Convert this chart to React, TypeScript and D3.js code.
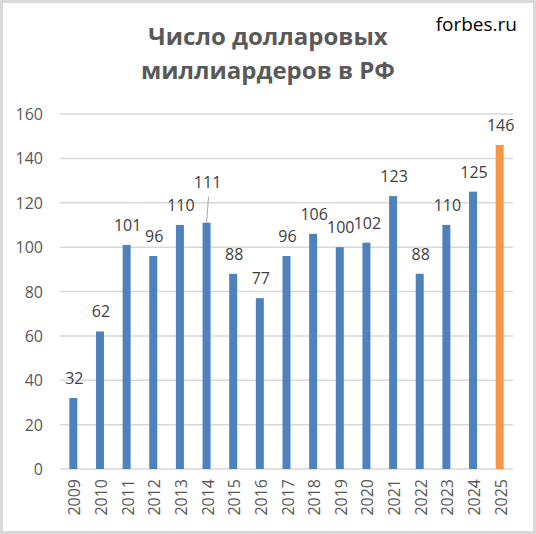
import React from "react";
import * as d3 from "d3";

const years = ["2009","2010","2011","2012","2013","2014","2015","2016","2017","2018","2019","2020","2021","2022","2023","2024","2025"];
const values = [32, 62, 101, 96, 110, 111, 88, 77, 96, 106, 100, 102, 123, 88, 110, 125, 146];
const yTicks = [0, 20, 40, 60, 80, 100, 120, 140, 160];
const titleLines = ["Число долларовых", "миллиардеров в РФ"];
const sourceText = "forbes.ru";
const highlightYear = "2025";
const calloutYear = "2014";

const W = 536, H = 534;
const plot = { left: 60, right: 513, top: 114, bottom: 469 };
const BLUE = "#4f81bd";
const ORANGE = "#f79646";
const FONT = "'Open Sans', 'Noto Sans', sans-serif";

export default function App() {
  const x = d3.scaleBand<string>().domain(years).range([plot.left, plot.right]).paddingInner(0).paddingOuter(0);
  const y = d3.scaleLinear().domain([0, 160]).range([plot.bottom, plot.top]);
  const barW = 8;

  return (
    <div style={{ position: "absolute", left: 0, top: 0 }}>
      <svg width={W} height={H} style={{ display: "block", background: "#fff" }}>
        <rect x={1.5} y={1.5} width={W - 3} height={H - 3} fill="#fff" stroke="#d9d9d9" strokeWidth={3} />
        {/* title */}
        {titleLines.map((t, i) => (
          <text key={t} x={268} y={45 + i * 34} textAnchor="middle" fontFamily={FONT} fontWeight={700} fontSize={24} fill="#595959">{t}</text>
        ))}
        <text x={517} y={31} textAnchor="end" fontFamily={FONT} fontSize={19} fill="#000">{sourceText}</text>
        {/* gridlines + y ticks */}
        {yTicks.map((t) => (
          <g key={t}>
            <line x1={plot.left} x2={plot.right} y1={y(t)} y2={y(t)} stroke="#d9d9d9" strokeWidth={1.5} />
            <text x={43} y={y(t)} dominantBaseline="central" textAnchor="end" fontFamily={FONT} fontSize={16} fill="#595959">{t}</text>
          </g>
        ))}
        {/* bars */}
        {years.map((yr, i) => {
          const cx = (x(yr) as number) + x.bandwidth() / 2;
          const v = values[i];
          const callout = yr === calloutYear;
          const ly = callout ? y(v) - 35 : y(v) - 14;
          return (
            <g key={yr}>
              <rect x={cx - barW / 2} y={y(v)} width={barW} height={y(0) - y(v)} fill={yr === highlightYear ? ORANGE : BLUE} />
              {callout && (
                <line x1={cx + 2} y1={ly + 9} x2={cx} y2={y(v)} stroke="#a6a6a6" strokeWidth={1} />
              )}
              <text x={cx + 1} y={ly} textAnchor="middle" fontFamily={FONT} fontSize={16} fill="#404040">{v}</text>
              <text transform={`translate(${cx + 1},479) rotate(-90)`} textAnchor="end" dominantBaseline="central" fontFamily={FONT} fontSize={16} fill="#595959">{yr}</text>
            </g>
          );
        })}
      </svg>
    </div>
  );
}
